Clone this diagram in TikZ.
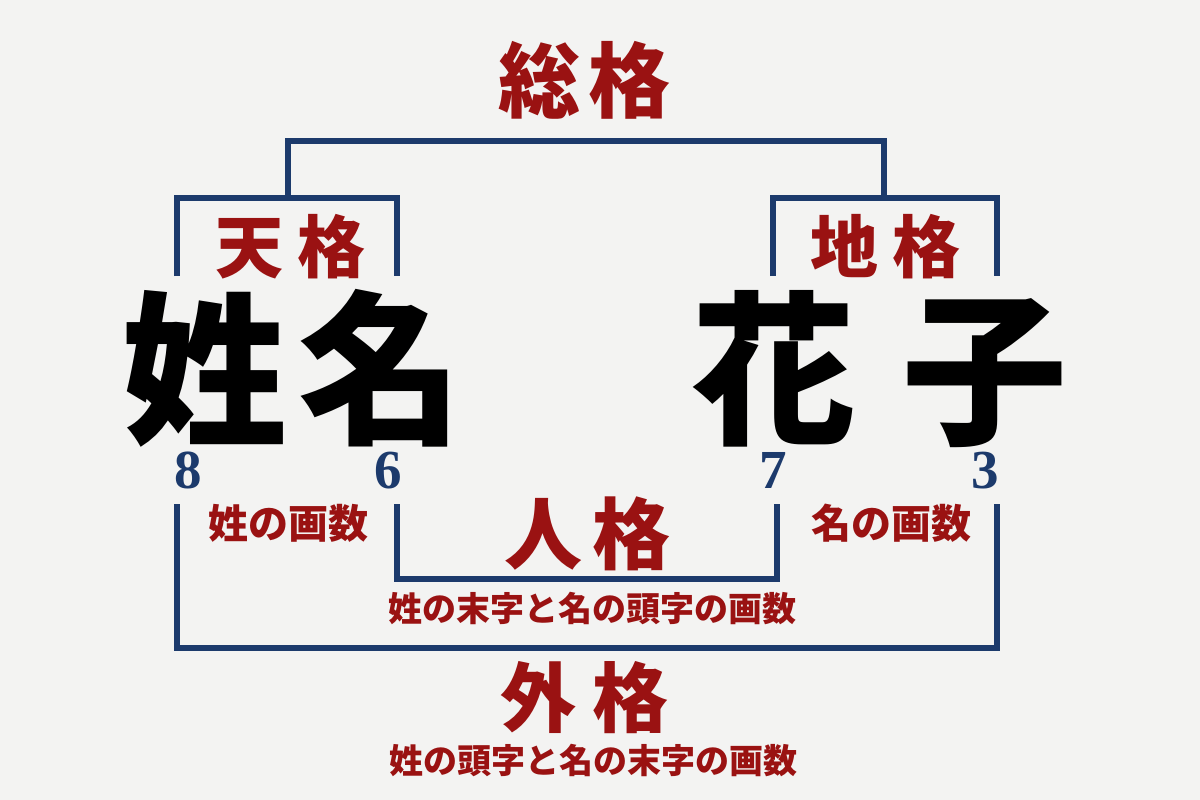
\documentclass[tikz,border=0pt]{standalone}
\usepackage{fontspec}
\newfontfamily\jp{Noto Sans CJK JP}
\newfontfamily\numf{Liberation Serif}
\definecolor{bg}{HTML}{F3F3F2}
\definecolor{navy}{HTML}{1C3A6C}
\definecolor{kred}{HTML}{9A1212}
\tikzset{
  cjk/.style={font=\jp\bfseries\fontsize{#1}{#1}\selectfont, text height={0.88*#1pt}, text depth={0.12*#1pt}, inner sep=0pt, anchor=center},
  bigchar/.style={font=\jp\bfseries\fontsize{165}{165}\selectfont, text height=145pt, text depth=14pt, inner sep=0pt, anchor=base, text=black},
  label/.style={cjk=#1, text=kred},
  numlbl/.style={font=\numf\bfseries\fontsize{55}{55}\selectfont, text=navy, text height=38pt, text depth=1pt, inner sep=0pt, anchor=base},
  bracket/.style={draw=navy, line width=6pt, line join=miter},
}
\begin{document}
\begin{tikzpicture}[x=1pt,y=-1pt]
\fill[bg] (0,0) rectangle (1200,800);
\useasboundingbox (0,0) rectangle (1200,800);

% big name characters
\node[bigchar] (c1) at (205,431) {姓};
\node[bigchar] (c2) at (381,431) {名};
\node[bigchar] (c3) at (774,431) {花};
\node[bigchar] (c4) at (985,431) {子};

% stroke numbers
\node[numlbl] (n1) at (188,488) {8};
\node[numlbl] (n2) at (388,488) {6};
\node[numlbl] (n3) at (773,488) {7};
\node[numlbl] (n4) at (985,488) {3};

% labels
\node[label=82] (so1) at (539,80) {総};
\node[label=82] (so2) at (629,80) {格};
\node[label=68] (te1) at (249,247) {天};
\node[label=68] (te2) at (331,247) {格};
\node[label=68] (ch1) at (844,247) {地};
\node[label=68] (ch2) at (926,247) {格};
\node[label=78] (ji1) at (543,534) {人};
\node[label=78] (ji2) at (631,534) {格};
\node[label=76] (ga1) at (538,698) {外};
\node[label=76] (ga2) at (630,698) {格};

\node[label=40] (sei) at (288,523) {姓の画数};
\node[label=40] (mei) at (891,523) {名の画数};
\node[label=34] (jides) at (592,609) {姓の末字と名の頭字の画数};
\node[label=34] (gades) at (593,761) {姓の頭字と名の末字の画数};

% bracket coordinates
\coordinate (tA) at (177,276); \coordinate (tB) at (177,198);
\coordinate (tC) at (397,198); \coordinate (tD) at (397,276);
\coordinate (cA) at (773,276); \coordinate (cB) at (773,198);
\coordinate (cC) at (997,198); \coordinate (cD) at (997,276);
\coordinate (sA) at (288,198); \coordinate (sB) at (288,141);
\coordinate (sC) at (884,141); \coordinate (sD) at (884,198);
\coordinate (jA) at (397,504); \coordinate (jB) at (397,579);
\coordinate (jC) at (777,579); \coordinate (jD) at (777,504);
\coordinate (gA) at (177,504); \coordinate (gB) at (177,648);
\coordinate (gC) at (997,648); \coordinate (gD) at (997,504);

\draw[bracket] (tA) -- (tB) -- (tC) -- (tD);
\draw[bracket] (cA) -- (cB) -- (cC) -- (cD);
\draw[bracket] (sA) -- (sB) -- (sC) -- (sD);
\draw[bracket] (jA) -- (jB) -- (jC) -- (jD);
\draw[bracket] (gA) -- (gB) -- (gC) -- (gD);
\end{tikzpicture}
\end{document}
